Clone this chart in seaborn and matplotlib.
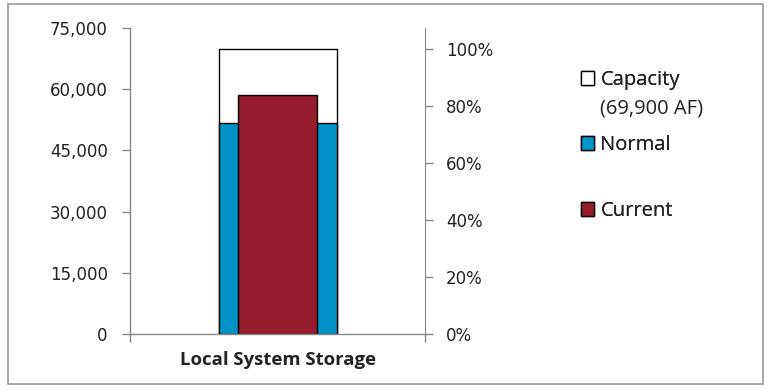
import seaborn as sns
import pandas as pd
import numpy as np
import matplotlib.pyplot as plt
from matplotlib.patches import Patch, Rectangle
from matplotlib.ticker import FuncFormatter, FixedLocator

# values (acre-feet)
category = ["Local System Storage"]
capacity = [69900]
normal = [51700]
current = [58600]

sns.set_style("white")
plt.rcParams['font.family'] = ['DejaVu Sans']

fig = plt.figure(figsize=(7.69, 3.90), dpi=100)
ax = fig.add_axes([0.169, 0.1436, 0.384, 0.7846])

df = pd.DataFrame({"cat": category, "capacity": capacity,
                   "normal": normal, "current": current})

# capacity outline, normal behind, current on top
sns.barplot(data=df, x="cat", y="capacity", color="white", edgecolor="black",
            linewidth=1, width=0.40, ax=ax)
sns.barplot(data=df, x="cat", y="normal", color="#0093C8", saturation=1,
            edgecolor="black", linewidth=1, width=0.40, ax=ax)
sns.barplot(data=df, x="cat", y="current", color="#951B2D", saturation=1,
            edgecolor="black", linewidth=1, width=0.27, ax=ax)

ax.set_xlim(-0.5, 0.5)
ax.set_ylim(0, 75000)
ax.set_yticks(np.arange(0, 75001, 15000))
ax.yaxis.set_major_formatter(FuncFormatter(lambda v, p: f"{int(v):,}"))
ax.set_xlabel("")
ax.set_ylabel("")
ax.set_xticks([0])
ax.set_xticklabels(category, fontweight="bold", fontsize=13.3, color="#222222",
                   family="Open Sans")
ax.tick_params(axis="x", length=0, pad=12)
ax.xaxis.set_minor_locator(FixedLocator([-0.5, 0.5]))
ax.tick_params(axis="x", which="minor", length=6, color="#888888", width=1, bottom=True)
ax.tick_params(axis="y", length=6, color="#888888", width=1, left=True,
               labelsize=12, labelcolor="#222222", pad=10)
for s in ["top", "right"]:
    ax.spines[s].set_visible(False)
for s in ["left", "bottom"]:
    ax.spines[s].set_color("#888888")
    ax.spines[s].set_linewidth(1)

# percent of capacity axis
ax2 = ax.twinx()
ax2.set_ylim(0, 75000 / capacity[0])
ax2.set_yticks(np.arange(0, 1.01, 0.2))
ax2.yaxis.set_major_formatter(FuncFormatter(lambda v, p: f"{v:.0%}"))
ax2.tick_params(axis="y", length=6, color="#888888", width=1, right=True,
                labelsize=12, labelcolor="#222222", pad=9)
for s in ["top", "left", "bottom"]:
    ax2.spines[s].set_visible(False)
ax2.spines["right"].set_color("#888888")

# legend entries with the uneven spacing of the original
entries = [("Capacity", "white", 0.795),
           ("Normal", "#0093C8", 0.628),
           ("Current", "#951B2D", 0.459)]
for label, col, ypos in entries:
    leg = fig.legend(handles=[Patch(facecolor=col, edgecolor="black", linewidth=1)],
                     labels=[label], loc="center left", bbox_to_anchor=(0.756, ypos),
                     frameon=False, handlelength=0.65, handleheight=0.65,
                     handletextpad=0.3, borderpad=0, borderaxespad=0,
                     prop={"family": "Open Sans", "size": 14.5})
    for t in leg.get_texts():
        t.set_color("#222222")
    fig.add_artist(leg)
fig.text(0.780, 0.723, "(69,900 AF)", family="Open Sans", fontsize=14.5,
         color="#222222", va="center", ha="left")

# outer chart border
fig.add_artist(Rectangle((0.0104, 0.015), 0.982, 0.974, transform=fig.transFigure,
                         fill=False, edgecolor="#999999", linewidth=1.2))

fig.savefig("out.png", dpi=100)
